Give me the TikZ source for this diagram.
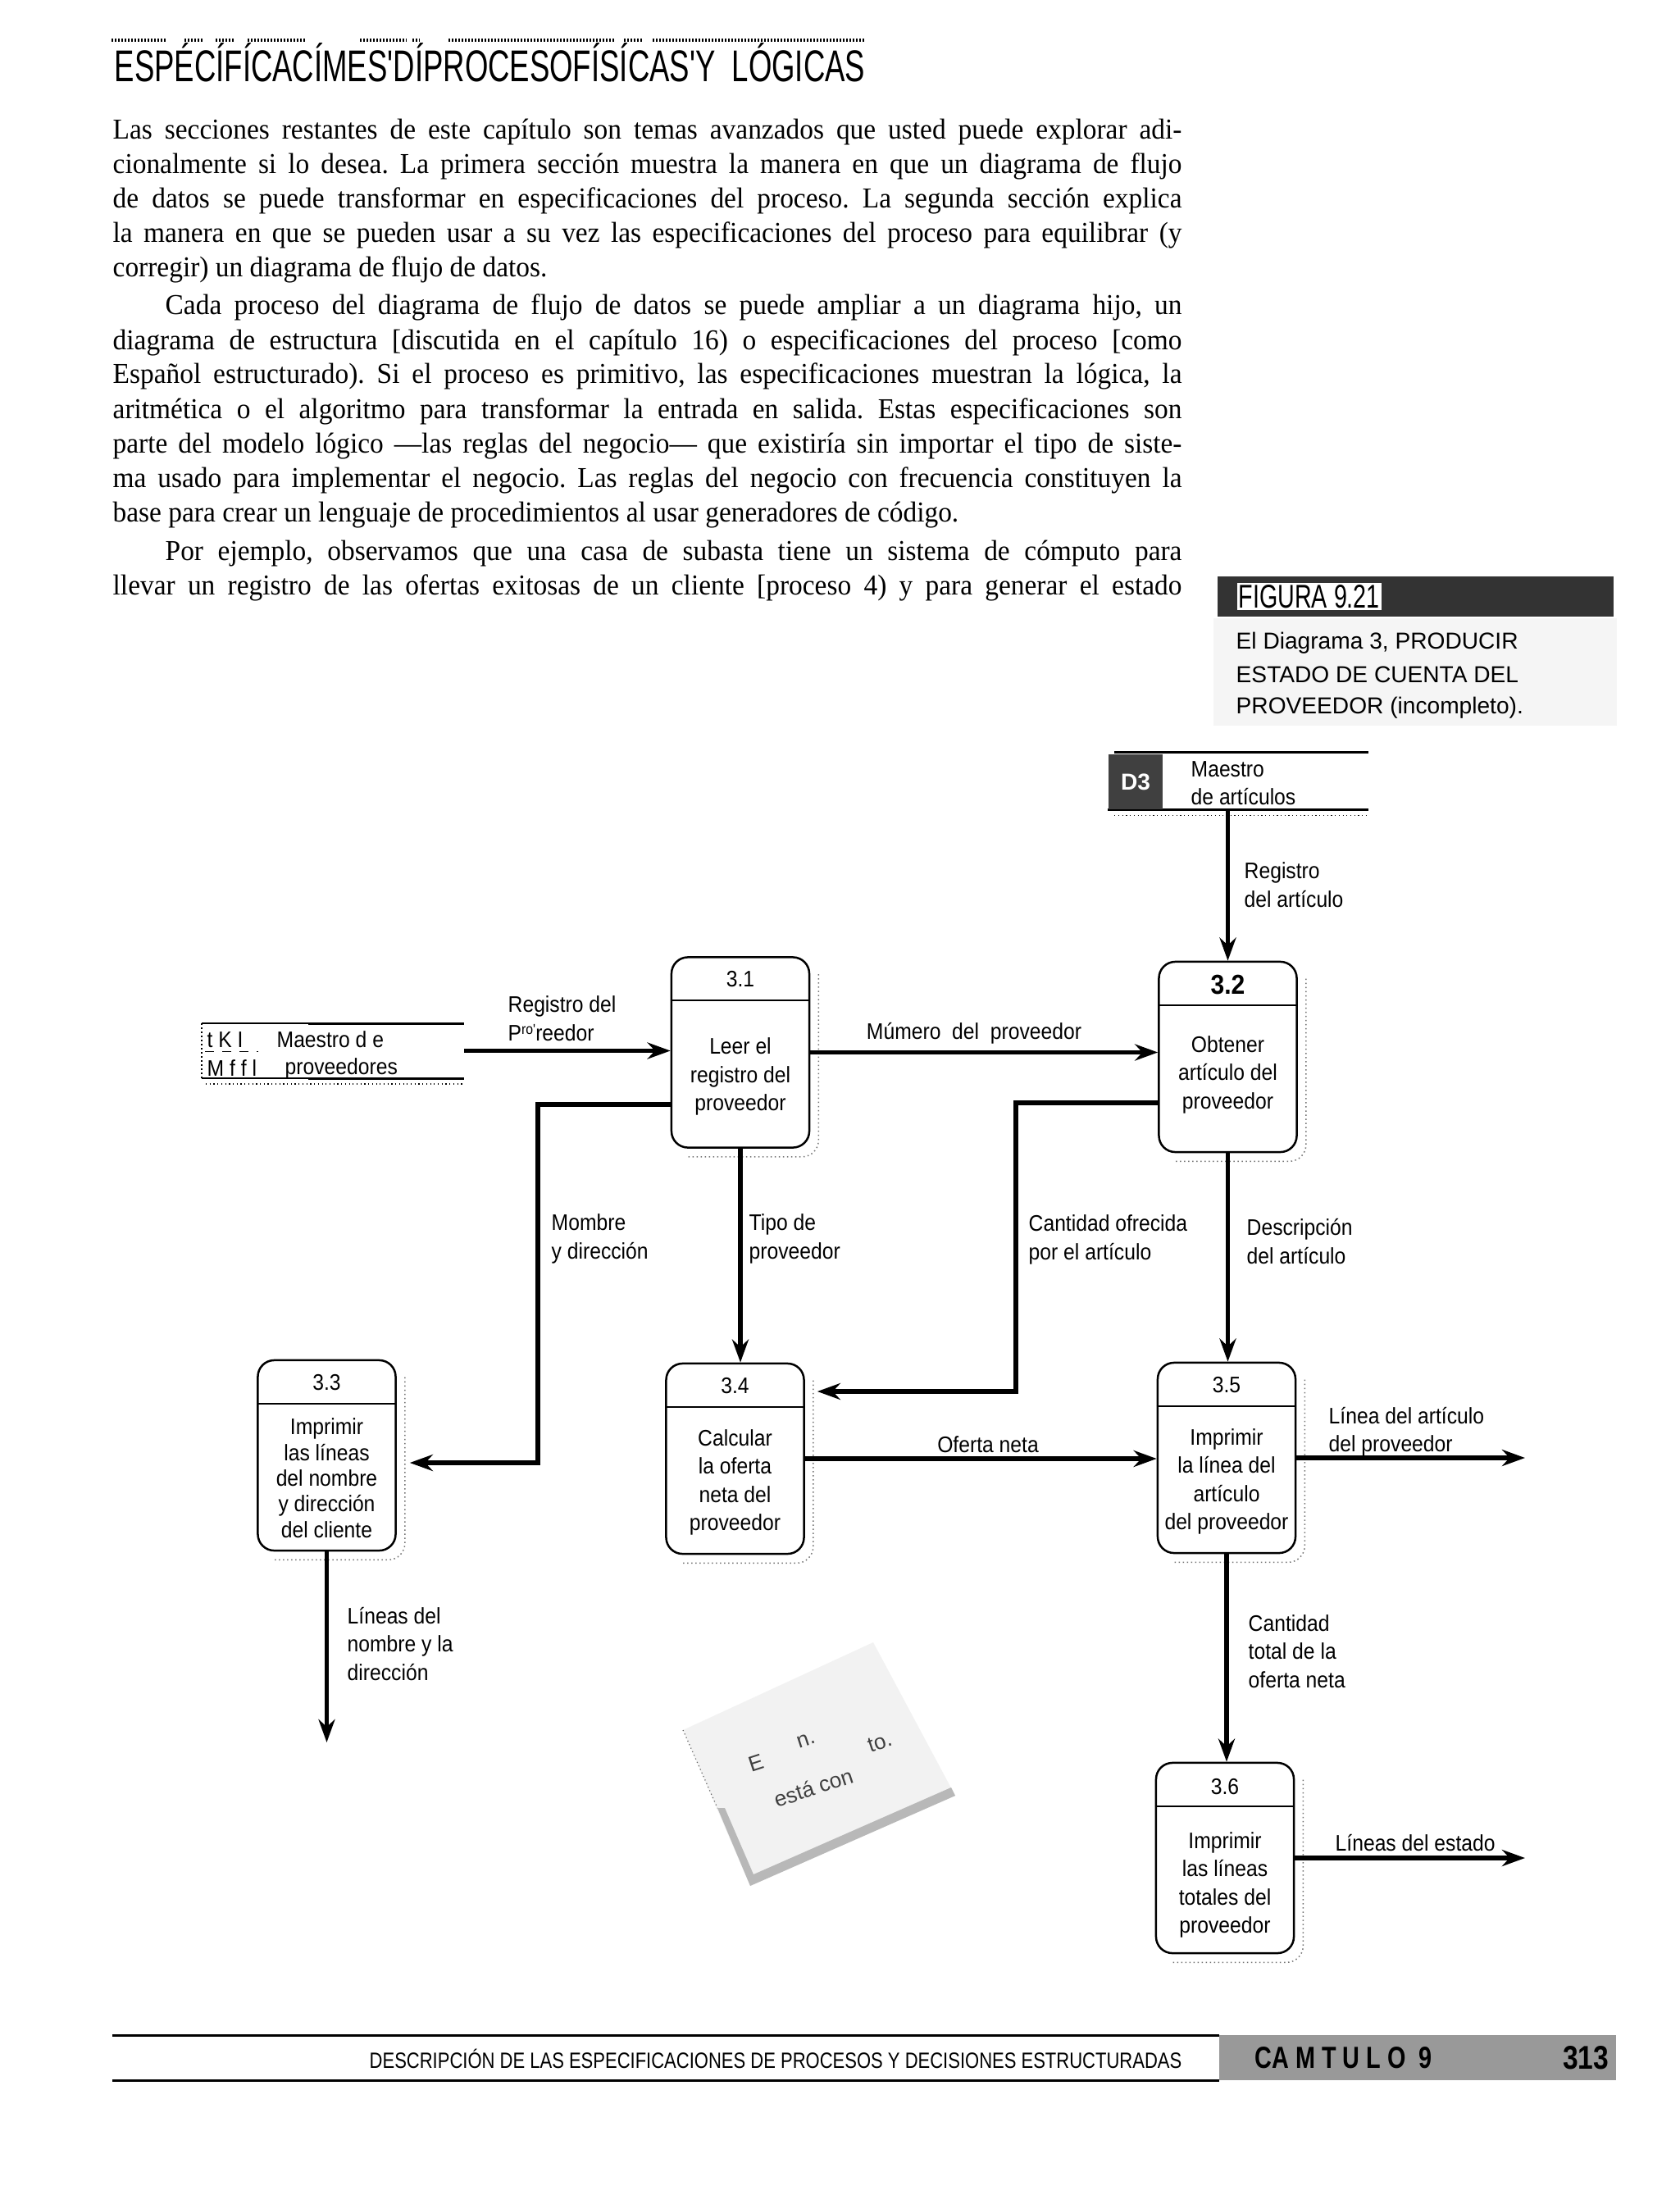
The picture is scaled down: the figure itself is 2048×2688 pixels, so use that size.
\documentclass[tikz,border=0pt]{standalone}
\usepackage{fontspec}
\usepackage{graphicx}
\usetikzlibrary{arrows.meta,calc}
\newfontfamily\dfdfont{Liberation Sans}[FakeStretch=0.9]
\newfontfamily\hsans{Liberation Sans}
\newfontfamily\bodyfont{Liberation Serif}[FakeStretch=0.95]
\newcommand{\fl}[2][13.03cm]{\makebox[#1][s]{#2}}
\newcommand{\pshadow}[1]{\draw[shadowline, rounded corners=0.2cm] ($(#1.north east)+(10,22)$) -- ($(#1.south east)+(10,10)$) -- ($(#1.south west)+(20,10)$);}
\newcommand{\pdivider}[1]{\draw[line width=0.018cm] ($(#1.north west)+(0,54)$) -- ($(#1.north east)+(0,54)$);}
\tikzset{
  proc/.style={draw, line width=0.025cm, rounded corners=0.2cm, minimum width=1.68cm, minimum height=2.32cm, inner sep=0},
  ptext/.style={font=\dfdfont\fontsize{7.8}{9.8}\selectfont, align=center, inner sep=0},
  pnum/.style={font=\dfdfont\fontsize{7.8}{9.8}\selectfont, inner sep=0},
  lbl/.style={font=\dfdfont\fontsize{7.8}{9.8}\selectfont, align=left, anchor=west, inner sep=0},
  flow/.style={line width=0.055cm, -{Stealth[length=0.28cm,width=0.2cm]}},
  shadowline/.style={black!55, line width=0.015cm, densely dotted},
  body/.style={font=\bodyfont\fontsize{10}{12}\selectfont\frenchspacing, anchor=base west, inner sep=0},
  hdr/.style={line width=0.035cm, dash pattern=on 0.015cm off 0.025cm},
  storeline/.style={line width=0.025cm},
  stamptext/.style={rotate=18, inner sep=0, text=black!75, font=\hsans\fontsize{7.5}{9}\selectfont},
}
\begin{document}
\begin{tikzpicture}[x=0.01cm,y=-0.01cm]
\fill[white] (0,0) rectangle (2048,2688);
\useasboundingbox (0,0) rectangle (2048,2688);

% ---------- header ----------
\foreach \a/\b in {136/203,225/248,263/286,302/372,439/496,503/512,547/751,761/783,796/1054}
  \draw[hdr] (\a,49) -- (\b,49);
\node[anchor=base west, inner sep=0] (title) at (139,100)
  {\resizebox{9.15cm}{0.47cm}{\hsans ESPÉCÍFÍCACÍMES'DÍPROCESOFÍSÍCAS'Y\ \ LÓGICAS}};

% ---------- body text ----------
\node[body] (b1) at (137,170) {\fl{Las secciones restantes de este capítulo son temas avanzados que usted puede explorar adi-}};
\node[body] (b2) at (137,212) {\fl{cionalmente si lo desea. La primera sección muestra la manera en que un diagrama de flujo}};
\node[body] (b3) at (137,254) {\fl{de datos se puede transformar en especificaciones del proceso. La segunda sección explica}};
\node[body] (b4) at (137,296) {\fl{la manera en que se pueden usar a su vez las especificaciones del proceso para equilibrar (y}};
\node[body] (b5) at (137,338) {corregir) un diagrama de flujo de datos.};
\node[body] (b6) at (201,384) {\fl[12.39cm]{Cada proceso del diagrama de flujo de datos se puede ampliar a un diagrama hijo, un}};
\node[body] (b7) at (137,426) {\fl{diagrama de estructura [discutida en el capítulo 16) o especificaciones del proceso [como}};
\node[body] (b8) at (137,468) {\fl{Español estructurado). Si el proceso es primitivo, las especificaciones muestran la lógica, la}};
\node[body] (b9) at (137,510) {\fl{aritmética o el algoritmo para transformar la entrada en salida. Estas especificaciones son}};
\node[body] (b10) at (137,552) {\fl{parte del modelo lógico —las reglas del negocio— que existiría sin importar el tipo de siste-}};
\node[body] (b11) at (137,594) {\fl{ma usado para implementar el negocio. Las reglas del negocio con frecuencia constituyen la}};
\node[body] (b12) at (137,636) {base para crear un lenguaje de procedimientos al usar generadores de código.};
\node[body] (b13) at (201,683) {\fl[12.39cm]{Por ejemplo, observamos que una casa de subasta tiene un sistema de cómputo para}};
\node[body] (b14) at (137,725) {\fl{llevar un registro de las ofertas exitosas de un cliente [proceso 4) y para generar el estado}};

% ---------- figure caption ----------
\fill[black!4] (1480,754) rectangle (1972,885);
\node[fill=black!80, minimum width=4.83cm, minimum height=0.49cm, inner sep=0] (figbar) at (1726.5,727.5) {};
\node[fill=white, inner sep=0.02cm, anchor=west] (figt) at (1508,727.5)
  {\resizebox{1.72cm}{0.28cm}{\hsans FIGURA 9.21}};
\node[anchor=base west, inner sep=0, font=\hsans\fontsize{8}{10}\selectfont] (cap1) at (1507,791) {El Diagrama 3, PRODUCIR};
\node[anchor=base west, inner sep=0, font=\hsans\fontsize{8}{10}\selectfont] (cap2) at (1507,832) {ESTADO DE CUENTA DEL};
\node[anchor=base west, inner sep=0, font=\hsans\fontsize{8}{10}\selectfont] (cap3) at (1507,870) {PROVEEDOR (incompleto).};

% ---------- data stores ----------
\node[minimum width=3.16cm, minimum height=0.69cm, inner sep=0] (s3) at (1510,952.5) {};
\draw[storeline] ($(s3.north west)+(8,0)$) -- (s3.north east);
\draw[storeline] (s3.south west) -- (s3.south east);
\draw[densely dotted, line width=0.012cm] ($(s3.south west)+(8,7)$) -- ($(s3.south east)+(0,7)$);
\node[fill=black!75, minimum width=0.66cm, minimum height=0.67cm, inner sep=0, text=white,
      font=\hsans\bfseries\fontsize{8}{9}\selectfont] (s3id) at (1385,953.5) {D3};
\node[lbl] (s3t1) at (1452,938) {Maestro};
\node[lbl] (s3t2) at (1452,972) {de artículos};

\coordinate (s1a) at (246,1248);
\coordinate (s1b) at (566,1315);
\draw[line width=0.012cm] (s1a) -- (s1a -| s1b);
\draw[line width=0.03cm] (376,1248) -- (s1a -| s1b);
\draw[line width=0.012cm] (s1a |- s1b) -- (s1b);
\draw[line width=0.03cm] (376,1315) -- (s1b);
\draw[densely dotted, line width=0.012cm] (251,1322) -- (566,1322);
\draw[densely dotted, line width=0.015cm] (s1a) -- (s1a |- s1b);
\coordinate (s1) at (566,1281.5);
\node[lbl] (s1id1) at (252,1268) {t K I};
\node[lbl] (s1id2) at (252,1303) {M f f l};
\draw[dashed, line width=0.01cm] (250,1282) -- (315,1282);
\node[lbl] (s1t1) at (337,1268) {Maestro d e};
\node[lbl] (s1t2) at (347,1303) {proveedores};

% ---------- processes ----------
\node[proc] (p31) at (903,1283.5) {};
\node[proc] (p32) at (1497.5,1289) {};
\node[proc] (p33) at (398.5,1775) {};
\node[proc] (p34) at (896.5,1779) {};
\node[proc] (p35) at (1496,1778) {};
\node[proc] (p36) at (1494,2266) {};
\foreach \p in {p31,p32,p33,p34,p35,p36} {\pdivider{\p}\pshadow{\p}}

\node[pnum] (n31) at ($(p31.north)+(0,28)$) {3.1};
\node[pnum, font=\dfdfont\bfseries\fontsize{9.5}{10}\selectfont] (n32) at ($(p32.north)+(0,29)$) {3.2};
\node[pnum] (n33) at ($(p33.north)+(0,28)$) {3.3};
\node[pnum] (n34) at ($(p34.north)+(0,28)$) {3.4};
\node[pnum] (n35) at ($(p35.north)+(0,28)$) {3.5};
\node[pnum] (n36) at ($(p36.north)+(0,30)$) {3.6};

\node[ptext] (t31) at ($(p31.north)+(0,147)$) {Leer el\\registro del\\proveedor};
\node[ptext] (t32) at ($(p32.north)+(0,139)$) {Obtener\\artículo del\\proveedor};
\node[ptext, font=\dfdfont\fontsize{7.8}{8.9}\selectfont] (t33) at ($(p33.north)+(0,145)$) {Imprimir\\las líneas\\del nombre\\y dirección\\del cliente};
\node[ptext] (t34) at ($(p34.north)+(0,146)$) {Calcular\\la oferta\\neta del\\proveedor};
\node[ptext] (t35) at ($(p35.north)+(0,146)$) {Imprimir\\la línea del\\artículo\\del proveedor};
\node[ptext] (t36) at ($(p36.north)+(0,150)$) {Imprimir\\las líneas\\totales del\\proveedor};

% ---------- connectors ----------
\coordinate (b1c) at (656,1347);
\coordinate (b2c) at (656,1784);
\coordinate (c1c) at (1239,1345);
\coordinate (c2c) at (1239,1697);
\coordinate (o33) at (398.5,2125);
\coordinate (o35) at (1860,1778);
\coordinate (o36) at (1860,2266);

\draw[flow] (s1) -- (p31.west |- s1);
\draw[flow] (p31.east) -- (p31.east -| p32.west);
\draw[flow] (s3.south -| p32.north) -- (p32.north);
\draw[flow] (p32.south) -- (p32.south |- p35.north);
\draw[flow] (p35.south) -- (p35.south |- p36.north);
\draw[flow] (p31.south) -- (p31.south |- p34.north);
\draw[flow] (p34.east) -- (p34.east -| p35.west);
\draw[flow] (p35.east) -- (o35);
\draw[flow] (p36.east) -- (o36);
\draw[flow] (p33.south) -- (o33);
\draw[flow, shorten >=0.16cm] (p31.west |- b1c) -- (b1c) -- (b2c) -- (b2c -| p33.east);
\draw[flow, shorten >=0.15cm] (p32.west |- c1c) -- (c1c) -- (c2c) -- (c2c -| p34.east);

% ---------- flow labels ----------
\node[lbl] (l1) at (619,1242) {Registro del\\P\raisebox{0.55ex}{\fontsize{5}{5}\selectfont ro'}reedor};
\node[lbl, anchor=center] (l2) at (1188,1260) {Múmero \ del \ proveedor};
\node[lbl] (l3) at (1517,1079) {Registro\\del artículo};
\node[lbl] (l4) at (672,1511) {Mombre\\y dirección};
\node[lbl] (l5) at (913,1511) {Tipo de\\proveedor};
\node[lbl] (l6) at (1254,1512) {Cantidad ofrecida\\por el artículo};
\node[lbl] (l7) at (1520,1514) {Descripción\\del artículo};
\node[lbl, anchor=center] (l8) at (1205,1762) {Oferta neta};
\node[lbl] (l9) at (1620,1746) {Línea del artículo\\del proveedor};
\node[lbl] (l10) at (1522,2014) {Cantidad\\total de la\\oferta neta};
\node[lbl] (l11) at (1628,2248) {Líneas del estado};
\node[lbl] (l12) at (423,2005) {Líneas del\\nombre y la\\dirección};

% ---------- stamp ----------
\fill[black!5] (833,2110) -- (1065,2003) -- (1165,2190) -- (915,2300) -- cycle;
\draw[black!60, line width=0.012cm, densely dotted] (833,2110) -- (875,2205);
\fill[black!28] (875,2205) -- (915,2300) -- (1165,2190) -- (1160,2180) -- (919,2286) -- (884,2205) -- cycle;
\node[stamptext] (stE) at (922,2150) {E};
\node[stamptext] (stn) at (983,2122) {n.};
\node[stamptext] (stto) at (1073,2125) {to.};
\node[stamptext] (stc) at (992,2180) {está con};

% ---------- footer ----------
\draw[line width=0.03cm] (137,2482) -- (1487,2482);
\draw[line width=0.03cm] (137,2537) -- (1487,2537);
\node[anchor=base, inner sep=0] (foot) at (946,2522)
  {\resizebox{9.9cm}{0.234cm}{\hsans DESCRIPCIÓN DE LAS ESPECIFICACIONES DE PROCESOS Y DECISIONES ESTRUCTURADAS}};
\node[fill=black!40, minimum width=4.84cm, minimum height=0.55cm, inner sep=0] (fbox) at (1729,2509.5) {};
\node[anchor=west, inner sep=0] (fcap) at (1530,2509.5)
  {\resizebox{2.16cm}{0.26cm}{\hsans\bfseries CA M T U L O \ 9}};
\node[anchor=east, inner sep=0] (fnum) at (1963,2509.5)
  {\resizebox{0.56cm}{0.28cm}{\hsans\bfseries 313}};
\end{tikzpicture}
\end{document}
